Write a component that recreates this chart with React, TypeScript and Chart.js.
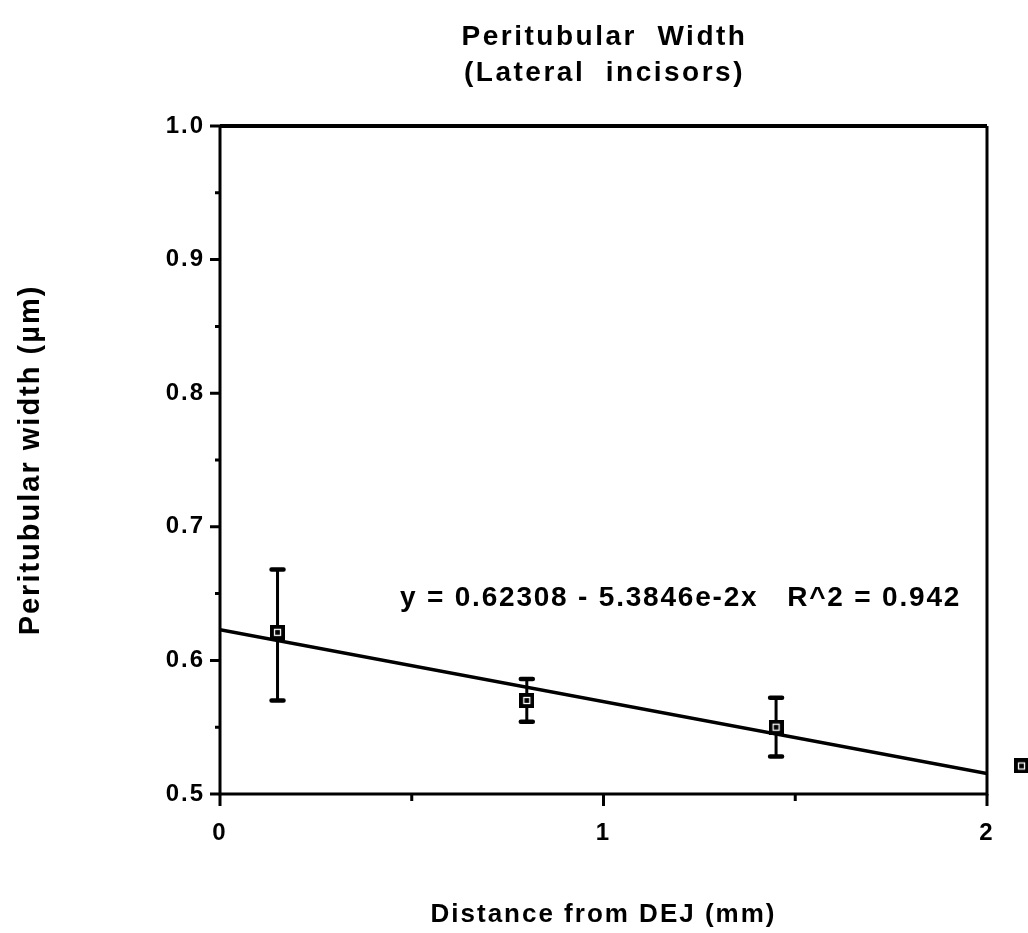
import { useEffect, useRef } from "react";
import { Chart, registerables } from "chart.js";

Chart.register(...registerables);

// ---- text ----
const titleLines = ["Peritubular  Width", "(Lateral  incisors)"];
const xAxisTitle = "Distance from DEJ (mm)";
const yAxisTitle = "Peritubular width (µm)";
const equationText = "y = 0.62308 - 5.3846e-2x   R^2 = 0.942";

// ---- data ----
const distances = [0.15, 0.8, 1.45, 2.09];
const widths = [0.621, 0.57, 0.55, 0.521];
const errLow: (number | null)[] = [0.57, 0.554, 0.528, null];
const errHigh: (number | null)[] = [0.668, 0.586, 0.572, null];

// regression line end points
const fitX = [0, 2];
const fitY = [0.623, 0.5154];

// ---- axes ----
const xMin = 0;
const xMax = 2;
const yMin = 0.5;
const yMax = 1.0;
const xMinorTicks = [0.5, 1.5];
const yMinorTicks = [0.55, 0.65, 0.75, 0.85, 0.95];

const FONT = '"Liberation Sans", Arial, Helvetica, sans-serif';

function makeMarker(): HTMLCanvasElement {
  const m = document.createElement("canvas");
  m.width = 15;
  m.height = 15;
  const c = m.getContext("2d")!;
  c.fillStyle = "#000";
  c.fillRect(0, 0, 15, 15);
  c.strokeStyle = "#fff";
  c.lineWidth = 1.3;
  c.strokeRect(4.5, 4.5, 6, 6);
  return m;
}

const decorPlugin = {
  id: "decor",
  beforeDraw(chart: any) {
    chart.ctx.letterSpacing = "2px";
  },
  beforeDatasetsDraw(chart: any) {
    const ctx = chart.ctx;
    const xs = chart.scales.x;
    const ys = chart.scales.y;
    ctx.save();
    ctx.strokeStyle = "#000";
    ctx.lineCap = "round";
    for (let i = 0; i < distances.length; i++) {
      const lo = errLow[i];
      const hi = errHigh[i];
      if (lo == null || hi == null) continue;
      const px = xs.getPixelForValue(distances[i]);
      const pLo = ys.getPixelForValue(lo);
      const pHi = ys.getPixelForValue(hi);
      ctx.lineWidth = 3;
      ctx.beginPath();
      ctx.moveTo(px, pLo);
      ctx.lineTo(px, pHi);
      ctx.stroke();
      ctx.lineWidth = 4.5;
      ctx.beginPath();
      ctx.moveTo(px - 6, pLo);
      ctx.lineTo(px + 6, pLo);
      ctx.moveTo(px - 6, pHi);
      ctx.lineTo(px + 6, pHi);
      ctx.stroke();
    }
    ctx.restore();
  },
  afterDraw(chart: any) {
    const ctx = chart.ctx;
    const a = chart.chartArea;
    const xs = chart.scales.x;
    const ys = chart.scales.y;
    ctx.save();
    ctx.strokeStyle = "#000";
    ctx.lineCap = "butt";
    // frame
    ctx.lineWidth = 3;
    ctx.beginPath();
    ctx.moveTo(a.left, a.top);
    ctx.lineTo(a.left, a.bottom);
    ctx.lineTo(a.right, a.bottom);
    ctx.lineTo(a.right, a.top);
    ctx.stroke();
    ctx.lineWidth = 4;
    ctx.beginPath();
    ctx.moveTo(a.left, a.top);
    ctx.lineTo(a.right, a.top);
    ctx.stroke();
    // ticks
    ctx.lineWidth = 3;
    ctx.beginPath();
    ys.ticks.forEach((t: any) => {
      const py = ys.getPixelForValue(t.value);
      ctx.moveTo(a.left - 10, py);
      ctx.lineTo(a.left, py);
    });
    yMinorTicks.forEach((v) => {
      const py = ys.getPixelForValue(v);
      ctx.moveTo(a.left - 5, py);
      ctx.lineTo(a.left, py);
    });
    xs.ticks.forEach((t: any) => {
      const px = xs.getPixelForValue(t.value);
      ctx.moveTo(px, a.bottom);
      ctx.lineTo(px, a.bottom + 12);
    });
    xMinorTicks.forEach((v) => {
      const px = xs.getPixelForValue(v);
      ctx.moveTo(px, a.bottom);
      ctx.lineTo(px, a.bottom + 7);
    });
    ctx.stroke();

    // title
    ctx.fillStyle = "#000";
    ctx.letterSpacing = "2.5px";
    ctx.font = `bold 28px ${FONT}`;
    ctx.textAlign = "center";
    ctx.textBaseline = "alphabetic";
    const cx = (a.left + a.right) / 2 + 1;
    ctx.fillText(titleLines[0], cx, 45);
    ctx.fillText(titleLines[1], cx, 81);

    // equation
    ctx.letterSpacing = "1.8px";
    ctx.font = `bold 28px ${FONT}`;
    ctx.textAlign = "left";
    ctx.fillText(equationText, a.left + 180, 606);
    ctx.restore();
  },
};

export default function App() {
  const ref = useRef<HTMLCanvasElement | null>(null);

  useEffect(() => {
    const canvas = ref.current;
    if (!canvas) return;
    const marker = makeMarker();
    const tickFont = { family: FONT, size: 24, weight: "bold" as const };
    const chart = new Chart(canvas, {
      type: "scatter",
      data: {
        datasets: [
          {
            type: "line",
            label: "fit",
            data: fitX.map((x, i) => ({ x, y: fitY[i] })),
            borderColor: "#000",
            borderWidth: 3.5,
            pointRadius: 0,
            fill: false,
            order: 2,
          } as any,
          {
            type: "scatter",
            label: "Peritubular width",
            data: distances.map((x, i) => ({ x, y: widths[i] })),
            pointStyle: marker,
            pointRadius: 8,
            pointHoverRadius: 45,
            clip: false,
            order: 1,
          } as any,
        ],
      },
      options: {
        responsive: false,
        animation: false,
        devicePixelRatio: 1,
        events: [],
        layout: {
          padding: { top: 126, right: 41, bottom: 0, left: 0 },
          autoPadding: false,
        },
        plugins: {
          legend: { display: false },
          tooltip: { enabled: false },
          title: { display: false },
        },
        scales: {
          x: {
            type: "linear",
            position: "bottom",
            min: xMin,
            max: xMax,
            grid: { display: false, drawTicks: false },
            border: { display: false },
            ticks: {
              stepSize: 1,
              color: "#000",
              font: tickFont,
              padding: 25,
              maxRotation: 0,
              callback: (v: any) => String(v),
            },
            title: {
              display: true,
              text: xAxisTitle,
              color: "#000",
              font: { family: FONT, size: 26, weight: "bold", lineHeight: 1 },
              padding: { top: 0, bottom: 5 },
            },
            afterFit: (s: any) => {
              s.height = 139;
            },
          },
          y: {
            type: "linear",
            position: "left",
            min: yMin,
            max: yMax,
            grid: { display: false, drawTicks: false },
            border: { display: false },
            ticks: {
              stepSize: 0.1,
              color: "#000",
              font: tickFont,
              padding: 15,
              callback: (v: any) => Number(v).toFixed(1),
            },
            title: {
              display: true,
              text: yAxisTitle,
              color: "#000",
              font: { family: FONT, size: 29, weight: "bold", lineHeight: 1 },
              padding: { top: 16, bottom: 0 },
            },
            afterFit: (s: any) => {
              s.width = 220;
            },
          },
        },
      },
      plugins: [decorPlugin],
    } as any);
    return () => chart.destroy();
  }, []);

  return (
    <div style={{ position: "absolute", left: 0, top: 0, width: 1028, height: 933, background: "#fff" }}>
      <canvas ref={ref} width={1028} height={933} style={{ display: "block" }} />
    </div>
  );
}
